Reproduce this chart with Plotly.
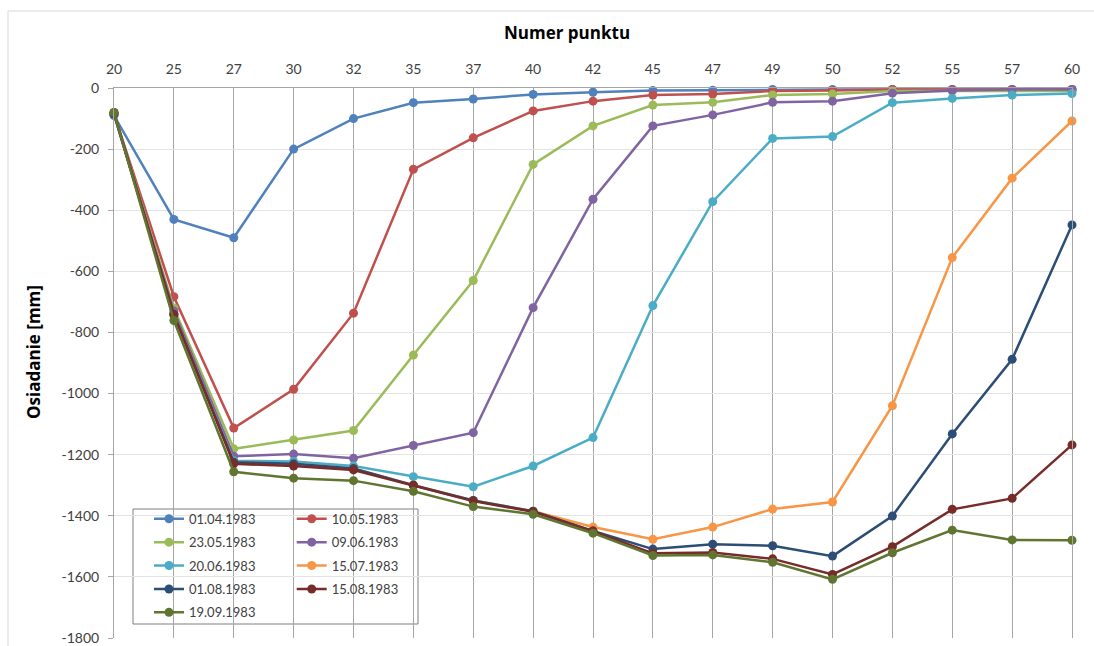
import plotly.graph_objects as go

# Measurement points along the profile line
points = ["20", "25", "27", "30", "32", "35", "37", "40", "42",
          "45", "47", "49", "50", "52", "55", "57", "60"]

# Vertical axis ticks and their labels (plain hyphen as minus sign)
y_ticks = [0, -200, -400, -600, -800, -1000, -1200, -1400, -1600, -1800]
y_tick_labels = ["0", "-200", "-400", "-600", "-800", "-1000", "-1200", "-1400", "-1600", "-1800"]

# Subsidence [mm] for each survey date
s_01_04 = [-90, -430, -490, -200, -100, -48, -36, -21, -14, -8, -7, -5, -5, -5, -5, -5, -5]
s_10_05 = [-85, -683, -1113, -986, -737, -266, -163, -75, -43, -23, -20, -10, -8, -5, -5, -5, -5]
s_23_05 = [-85, -720, -1181, -1152, -1121, -874, -630, -250, -124, -56, -47, -23, -20, -10, -10, -10, -10]
s_09_06 = [-85, -730, -1205, -1198, -1212, -1170, -1128, -719, -364, -124, -88, -47, -43, -17, -8, -5, -5]
s_20_06 = [-85, -740, -1220, -1222, -1237, -1272, -1305, -1237, -1144, -712, -372, -165, -159, -48, -34, -23, -18]
s_15_07 = [-85, -740, -1225, -1230, -1245, -1300, -1350, -1385, -1437, -1477, -1437, -1378, -1355, -1040, -555, -295, -108]
s_01_08 = [-85, -740, -1225, -1230, -1245, -1300, -1350, -1385, -1450, -1509, -1493, -1498, -1532, -1401, -1132, -888, -448]
s_15_08 = [-80, -742, -1230, -1237, -1250, -1300, -1352, -1387, -1450, -1523, -1520, -1541, -1592, -1501, -1379, -1343, -1168]
s_19_09 = [-80, -761, -1256, -1277, -1285, -1320, -1370, -1395, -1457, -1530, -1528, -1552, -1608, -1521, -1447, -1479, -1480]

dates = ["01.04.1983", "10.05.1983", "23.05.1983", "09.06.1983", "20.06.1983",
         "15.07.1983", "01.08.1983", "15.08.1983", "19.09.1983"]
series = [s_01_04, s_10_05, s_23_05, s_09_06, s_20_06, s_15_07, s_01_08, s_15_08, s_19_09]
colors = ["#4F81BD", "#C0504D", "#9BBB59", "#8064A2", "#4BACC6",
          "#F79646", "#2C4D75", "#772C2A", "#5F7530"]

FONT = "Lato, 'Open Sans', sans-serif"
TITLE_FONT = "'Open Sans', Lato, sans-serif"

fig = go.Figure()
for i, (name, vals, col) in enumerate(zip(dates, series, colors)):
    # first legend column: entries 0,2,4,6,8 ; second column: 1,3,5,7
    legend_id = "legend" if i % 2 == 0 else "legend2"
    fig.add_trace(go.Scatter(
        x=points, y=vals, name=name, mode="lines+markers",
        line=dict(color=col, width=2.5),
        marker=dict(color=col, size=9, symbol="circle"),
        cliponaxis=False,
        legend=legend_id, legendgroup=name,
    ))

legend_common = dict(yanchor="top", xanchor="left",
                     bgcolor="rgba(0,0,0,0)", borderwidth=0,
                     traceorder="grouped", tracegroupgap=3.5,
                     font=dict(family=FONT, size=13, color="#404040"))

fig.update_layout(
    width=1094, height=646,
    margin=dict(l=114, r=22, t=88, b=8, autoexpand=False),
    paper_bgcolor="white", plot_bgcolor="white",
    font=dict(family=FONT, size=13, color="#404040"),
    showlegend=True,
    legend=dict(x=0.0365, y=0.244, **legend_common),
    legend2=dict(x=0.1855, y=0.244, **legend_common),
    xaxis=dict(
        type="category", side="top", range=[0, 16], autorange=False,
        showgrid=True, gridcolor="#A6A6A6", gridwidth=1,
        showline=True, linecolor="#A6A6A6", linewidth=1,
        ticks="", ticklabelstandoff=7, automargin=False,
        tickfont=dict(family=FONT, size=14, color="#404040"),
        zeroline=False,
    ),
    yaxis=dict(
        range=[-1800, 0], autorange=False,
        tickmode="array", tickvals=y_ticks, ticktext=y_tick_labels,
        showgrid=True, gridcolor="#E3E3E3", gridwidth=1,
        showline=True, linecolor="#A6A6A6", linewidth=1, mirror=True,
        ticks="outside", ticklen=5, tickcolor="#A6A6A6",
        ticklabelstandoff=6, automargin=False,
        tickfont=dict(family=FONT, size=14, color="#404040"),
        zeroline=False,
    ),
    annotations=[
        dict(text="<b>Numer punktu</b>", xref="paper", yref="paper",
             x=(567 - 114) / 958, y=(638 - 33) / 550, xanchor="center", yanchor="middle",
             showarrow=False, font=dict(family=TITLE_FONT, size=17, color="#000000")),
        dict(text="<b>Osiadanie [mm]</b>", xref="paper", yref="paper",
             x=(33 - 114) / 958, y=(638 - 352) / 550, xanchor="center", yanchor="middle",
             textangle=-90, showarrow=False,
             font=dict(family=TITLE_FONT, size=17, color="#000000")),
    ],
    shapes=[
        # legend frame
        dict(type="rect", xref="paper", yref="paper",
             x0=(133 - 114) / 958, x1=(418 - 114) / 958,
             y0=(638 - 624) / 550, y1=(638 - 509) / 550,
             line=dict(color="#7F7F7F", width=1), fillcolor="white", layer="below"),
        # outer chart frame
        dict(type="rect", xref="paper", yref="paper",
             x0=(8 - 114) / 958, x1=(1110 - 114) / 958,
             y0=(638 - 660) / 550, y1=(638 - 11) / 550,
             line=dict(color="#D9D9D9", width=1), fillcolor="rgba(0,0,0,0)", layer="below"),
    ],
)

fig.write_html("out.html")
